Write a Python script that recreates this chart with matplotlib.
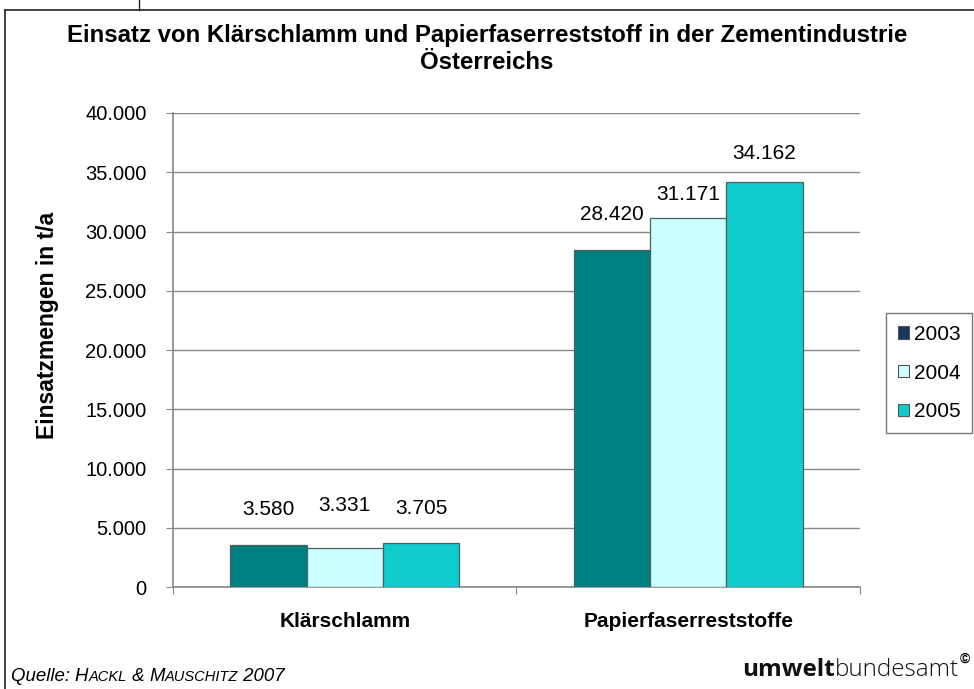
import numpy as np
import matplotlib.pyplot as plt
from matplotlib.ticker import FuncFormatter
from matplotlib.lines import Line2D
from matplotlib.patches import Patch

plt.rcParams['font.family'] = ['Liberation Sans', 'DejaVu Sans']

categories = ['Klärschlamm', 'Papierfaserreststoffe']
years = ['2003', '2004', '2005']
values = {
    '2003': [3580, 28420],
    '2004': [3331, 31171],
    '2005': [3705, 34162],
}
bar_colors = ['#008080', '#CCFFFF', '#10CCCC']
legend_colors = ['#17375E', '#CCFFFF', '#10CCCC']
# label gap above bar top, in points (labels were hand-placed in the original)
label_gap = {
    '2003': [25, 26],
    '2004': [30, 17],
    '2005': [25, 21],
}


def dotted(v, pos=None):
    return f'{int(v):,}'.replace(',', '.')


fig = plt.figure(figsize=(9.74, 6.89), dpi=100)
# outer frame (only top and left edge are visible in the original crop)
fig.add_artist(Line2D([0.0047, 1.0], [0.9855, 0.9855], transform=fig.transFigure, color='#222222', lw=1.2))
fig.add_artist(Line2D([0.0047, 0.0047], [0.0, 0.9855], transform=fig.transFigure, color='#222222', lw=1.2))
fig.add_artist(Line2D([0.143, 0.143], [0.9855, 1.0], transform=fig.transFigure, color='#222222', lw=1.0))

ax = fig.add_axes([0.1776, 0.148, 0.7053, 0.688])

x = np.arange(len(categories))
w = 0.222
for i, y in enumerate(years):
    pos = x + (i - 1) * w
    bars = ax.bar(pos, values[y], w, color=bar_colors[i], edgecolor='#4d5f5f', lw=0.9, zorder=3)
    for b, v, g in zip(bars, values[y], label_gap[y]):
        ax.annotate(dotted(v), (b.get_x() + b.get_width() / 2, v), xytext=(0, g),
                    textcoords='offset points', ha='center', va='center', fontsize=15)

ax.set_xlim(-0.5, 1.5)
ax.set_ylim(0, 40000)
ax.set_yticks(np.arange(0, 40001, 5000))
ax.yaxis.set_major_formatter(FuncFormatter(dotted))
ax.set_xticks([-0.5, 0.5, 1.5])
ax.set_xticklabels([])
ax.tick_params(axis='x', length=5, color='#888888')
ax.tick_params(axis='y', length=5, color='#888888', labelsize=14.5, pad=14)
ax.grid(axis='y', color='#888888', lw=1, zorder=0)
for s in ['top', 'right']:
    ax.spines[s].set_visible(False)
for s in ['left', 'bottom']:
    ax.spines[s].set_color('#888888')
    ax.spines[s].set_linewidth(1.2)

for xi, c in zip(x, categories):
    ax.text(xi, -0.072, c, transform=ax.get_xaxis_transform(), ha='center', va='center',
            fontsize=15, fontweight='bold')

ax.text(-0.183, 0.552, 'Einsatzmengen in t/a', transform=ax.transAxes, rotation=90,
        ha='center', va='center', fontsize=16.5, fontweight='bold')

fig.text(0.5, 0.949, 'Einsatz von Klärschlamm und Papierfaserreststoff in der Zementindustrie',
         ha='center', va='center', fontsize=17.3, fontweight='bold')
fig.text(0.5, 0.910, 'Österreichs', ha='center', va='center', fontsize=17.3, fontweight='bold')

handles = [Patch(facecolor=c, edgecolor='#555555', lw=0.8) for c in legend_colors]
leg = fig.legend(handles, years, loc='center left', bbox_to_anchor=(0.9097, 0.4586),
                 fontsize=15, frameon=True, fancybox=False, edgecolor='#555555',
                 handlelength=0.55, handleheight=0.55, handletextpad=0.25,
                 labelspacing=0.95, borderpad=0.55, borderaxespad=0)
leg.get_frame().set_linewidth(1.0)

# source line with small caps
fig.canvas.draw()
r = fig.canvas.get_renderer()
parts = [('Quelle: ', 13.4), ('H', 13.4), ('ACKL', 10.5), (' & ', 13.4), ('M', 13.4), ('AUSCHITZ', 10.5), (' 2007', 13.4)]
xpos = 0.011
for txt, fs in parts:
    t = fig.text(xpos, 0.012, txt, fontsize=fs, style='italic', ha='left', va='baseline')
    bb = t.get_window_extent(renderer=r)
    xpos += bb.width / fig.bbox.width

# logo
lx, ly = 0.762, 0.019
t1 = fig.text(lx, ly, 'umwelt', fontsize=17.5, fontweight='bold', color='#111111',
              family='Open Sans', ha='left', va='baseline')
bb = t1.get_window_extent(renderer=r)
t2 = fig.text(lx + bb.width / fig.bbox.width, ly, 'bundesamt', fontsize=17.5,
              color='#111111', family='Open Sans', fontweight='light', ha='left', va='baseline')
bb2 = t2.get_window_extent(renderer=r)
fig.text(bb2.x1 / fig.bbox.width + 0.0005, 0.038, '©', fontsize=10, fontweight='bold',
         ha='left', va='baseline')

fig.savefig('out.png', dpi=100)
